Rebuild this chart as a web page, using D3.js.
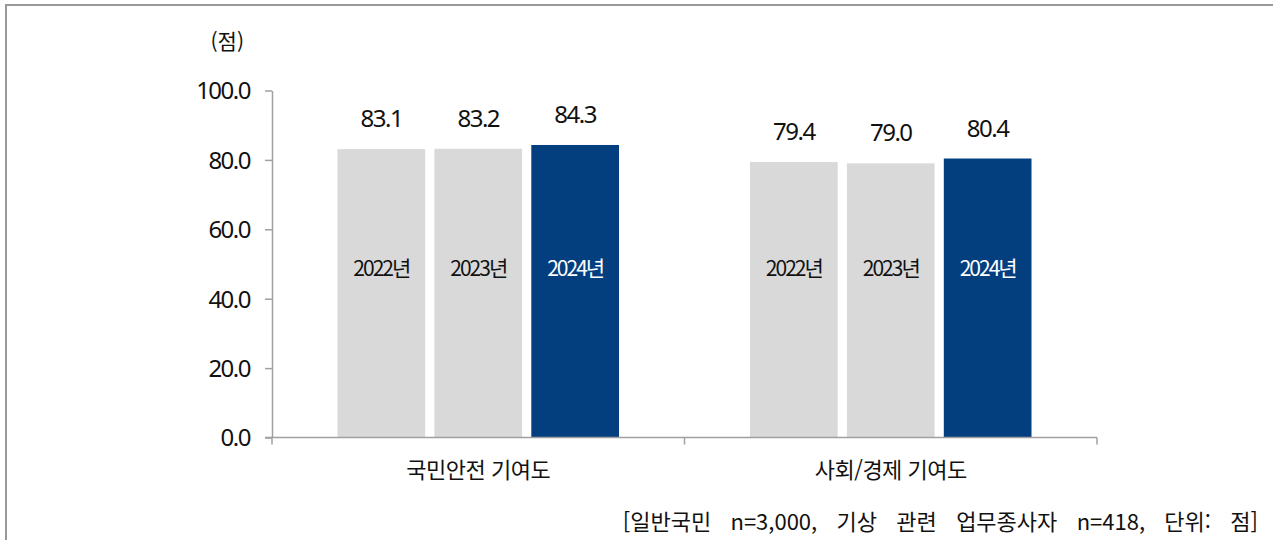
<!DOCTYPE html>
<html lang="ko">
<head>
  <meta charset="UTF-8" />
  <title>국민안전 / 사회·경제 기여도</title>
  <script src="https://d3js.org/d3.v7.min.js"></script>
  <style>
    body { margin: 0; background: #fff; }
    svg { display: block; font-family: 'Noto Sans CJK KR', 'Noto Sans', sans-serif; }
  </style>
</head>
<body>
  <div id="chart"></div>
  <script>
    // data
    const categories = ["국민안전 기여도", "사회/경제 기여도"];
    const years = ["2022년", "2023년", "2024년"];
    const values2022 = [83.1, 79.4];
    const values2023 = [83.2, 79.0];
    const values2024 = [84.3, 80.4];
    const yTicks = [0, 20, 40, 60, 80, 100];
    const unitLabel = "(점)";
    const footnote = "[일반국민  n=3,000,  기상  관련  업무종사자  n=418,  단위:  점]";

    const series = [values2022, values2023, values2024];
    const barColors = ["#d9d9d9", "#d9d9d9", "#033f7f"];
    const inLabelColors = ["#111", "#111", "#fff"];

    const width = 1273, height = 540;
    const x0 = 272, x1 = 1097, yTop = 90.5, yBase = 437.5;

    const svg = d3.select("#chart").append("svg")
      .attr("width", width)
      .attr("height", height);

    // outer frame (only left and top edges visible)
    svg.append("path")
      .attr("d", `M6,${height} V5 H${width}`)
      .attr("fill", "none")
      .attr("stroke", "#999")
      .attr("stroke-width", 2);

    const y = d3.scaleLinear().domain([0, 100]).range([yBase, yTop]);
    const xCat = d3.scaleBand().domain(categories).range([x0, x1]).paddingInner(0).paddingOuter(0);
    const groupPad = 65.5;
    const xYear = d3.scaleBand().domain(years)
      .range([groupPad, xCat.bandwidth() - groupPad])
      .paddingInner(0.095).paddingOuter(0);

    // y axis
    const yAxis = d3.axisLeft(y).tickValues(yTicks).tickSize(7).tickSizeOuter(0)
      .tickFormat(d3.format(".1f"));
    const gy = svg.append("g").attr("transform", `translate(${x0},0)`).call(yAxis);
    gy.select(".domain").attr("stroke", "#a0a0a0").attr("stroke-width", 1.5);
    gy.selectAll(".tick line").attr("stroke", "#a0a0a0").attr("stroke-width", 1.5);
    gy.selectAll(".tick text")
      .attr("x", -22)
      .attr("dy", "0.35em")
      .attr("fill", "#111")
      .attr("font-size", 24)
      .attr("letter-spacing", -1.5)
      .style("font-family", "'Noto Sans', sans-serif");

    svg.append("text")
      .attr("x", 244).attr("y", 49)
      .attr("text-anchor", "end")
      .attr("font-size", 21)
      .attr("fill", "#111")
      .text(unitLabel);

    // bars
    const groups = svg.selectAll("g.grp")
      .data(categories)
      .enter().append("g")
      .attr("class", "grp")
      .attr("transform", d => `translate(${xCat(d)},0)`);

    years.forEach((yr, k) => {
      groups.append("rect")
        .attr("x", xYear(yr))
        .attr("width", xYear.bandwidth())
        .attr("y", (d, i) => y(series[k][i]))
        .attr("height", (d, i) => yBase - y(series[k][i]))
        .attr("fill", barColors[k]);

      groups.append("text")
        .attr("x", xYear(yr) + xYear.bandwidth() / 2)
        .attr("y", (d, i) => y(series[k][i]) - 22)
        .attr("text-anchor", "middle")
        .attr("font-size", 24)
        .attr("letter-spacing", -1.5)
        .attr("fill", "#111")
        .style("font-family", "'Noto Sans', sans-serif")
        .text((d, i) => series[k][i].toFixed(1));

      groups.append("text")
        .attr("x", xYear(yr) + xYear.bandwidth() / 2)
        .attr("y", 269)
        .attr("dy", "0.35em")
        .attr("text-anchor", "middle")
        .attr("font-size", 21)
        .attr("letter-spacing", -2)
        .attr("fill", inLabelColors[k])
        .text(yr);
    });

    // x axis
    const xAxis = d3.axisBottom(xCat).tickSize(0).tickFormat("");
    const gx = svg.append("g").attr("transform", `translate(0,${yBase})`).call(xAxis);
    gx.select(".domain").attr("stroke", "#a0a0a0").attr("stroke-width", 1.5)
      .attr("d", `M${x0 - 7},0H${x1}`);
    gx.selectAll(".tick").remove();
    const bounds = [x0, ...categories.slice(1).map(c => xCat(c)), x1];
    gx.selectAll("line.sep")
      .data(bounds)
      .enter().append("line")
      .attr("class", "sep")
      .attr("x1", d => d).attr("x2", d => d)
      .attr("y1", 0).attr("y2", 7)
      .attr("stroke", "#a0a0a0")
      .attr("stroke-width", 1.5);

    svg.selectAll("text.cat")
      .data(categories)
      .enter().append("text")
      .attr("class", "cat")
      .attr("x", d => xCat(d) + xCat.bandwidth() / 2)
      .attr("y", 478)
      .attr("text-anchor", "middle")
      .attr("font-size", 22)
      .attr("letter-spacing", -0.5)
      .attr("fill", "#111")
      .text(d => d);

    svg.append("text")
      .attr("x", 1258).attr("y", 530)
      .attr("text-anchor", "end")
      .attr("font-size", 22)
      .attr("fill", "#111")
      .attr("word-spacing", 3.5)
      .style("white-space", "pre")
      .text(footnote);
  </script>
</body>
</html>
